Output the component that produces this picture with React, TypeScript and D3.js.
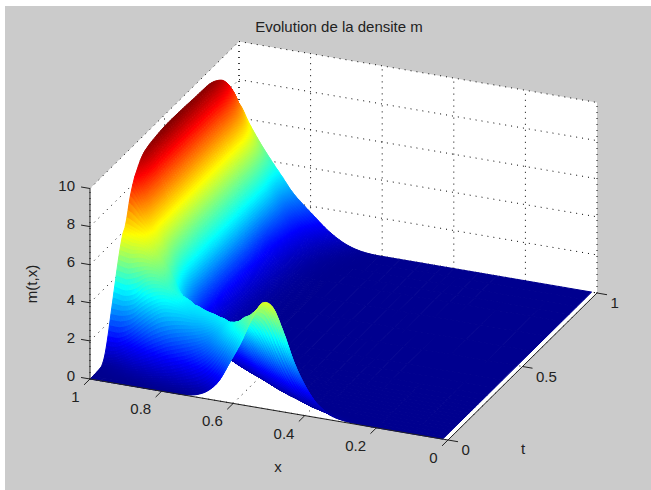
import React from 'react';
import * as d3 from 'd3';

const figWidth = 651;
const figHeight = 490;

const titleText = 'Evolution de la densite m';
const xTicks = [0, 0.2, 0.4, 0.6, 0.8, 1];
const tTicks = [0, 0.5, 1];
const zTicks = [0, 2, 4, 6, 8, 10];

// surface grid
const xGrid = [1, 0.97, 0.94, 0.91, 0.88, 0.85, 0.82, 0.79, 0.76, 0.73, 0.7, 0.67, 0.64, 0.61, 0.58, 0.55, 0.52, 0.49, 0.46, 0.43, 0.4, 0.37, 0.33, 0.28, 0.2, 0.1, 0.015];
const tGrid = [0, 0.02, 0.04, 0.06, 0.08, 0.1, 0.12, 0.14, 0.16, 0.18, 0.2, 0.22, 0.24, 0.27, 0.3, 0.35, 0.4, 0.5, 0.6, 0.7, 0.8, 0.85, 0.9, 0.95, 1];

// one row per t, one column per x, missing columns at the end are 0
const density = [
  [0, 0, 0, 0, 0, 0, 0, 0, 0, 0.03, 0.15, 0.45, 1.05, 2.1, 3.2, 4.5, 5.5, 5.4, 4.2, 2.7, 1.6, 0.8, 0.25, 0.05],
  [0, 0, 0, 0, 0.03, 0.06, 0.12, 0.18, 0.25, 0.35, 0.55, 1.0, 1.8, 2.9, 4.0, 4.8, 5.0, 4.1, 2.8, 1.6, 0.8, 0.3, 0.08, 0.01],
  [0.01, 0.03, 0.06, 0.12, 0.2, 0.3, 0.4, 0.5, 0.7, 0.95, 1.3, 1.9, 2.8, 3.7, 4.3, 4.2, 3.4, 2.2, 1.2, 0.55, 0.2, 0.06, 0.01],
  [0.03, 0.08, 0.15, 0.3, 0.45, 0.65, 0.9, 1.1, 1.3, 1.6, 2.0, 2.6, 3.3, 3.8, 3.6, 2.9, 1.9, 1.0, 0.45, 0.15, 0.04, 0.01],
  [0.1, 0.2, 0.4, 0.7, 1.0, 1.3, 1.6, 1.8, 2.0, 2.2, 2.5, 3.0, 3.5, 3.4, 2.7, 1.7, 0.85, 0.35, 0.12, 0.03],
  [0.5, 0.6, 0.9, 1.3, 1.75, 2.1, 2.35, 2.5, 2.6, 2.75, 3.0, 3.35, 3.2, 2.5, 1.5, 0.75, 0.3, 0.1, 0.03],
  [1.3, 1.3, 1.6, 2.1, 2.6, 3.0, 3.1, 3.1, 3.05, 3.1, 3.3, 3.2, 2.5, 1.5, 0.75, 0.3, 0.1, 0.03],
  [2.3, 2.3, 2.5, 3.0, 3.4, 3.6, 3.5, 3.3, 3.25, 3.3, 3.1, 2.4, 1.5, 0.75, 0.3, 0.1, 0.03],
  [3.3, 3.2, 3.4, 3.9, 4.1, 4.0, 3.7, 3.4, 3.3, 2.9, 2.1, 1.3, 0.65, 0.28, 0.1, 0.03],
  [4.3, 4.2, 4.4, 4.6, 4.5, 4.0, 3.6, 3.3, 2.7, 1.9, 1.15, 0.6, 0.27, 0.1, 0.03],
  [5.2, 5.1, 5.2, 5.0, 4.6, 3.9, 3.3, 2.6, 1.8, 1.1, 0.6, 0.28, 0.12, 0.04],
  [5.9, 5.7, 5.6, 5.2, 4.6, 3.7, 2.8, 1.9, 1.15, 0.65, 0.32, 0.15, 0.05, 0.01],
  [6.3, 6.1, 5.8, 5.2, 4.4, 3.3, 2.2, 1.3, 0.75, 0.38, 0.18, 0.07, 0.02],
  [7.5, 6.8, 6.0, 5.2, 4.2, 2.9, 1.7, 0.95, 0.48, 0.22, 0.09, 0.03],
  [8.3, 7.2, 6.0, 5.0, 3.9, 2.5, 1.35, 0.7, 0.32, 0.14, 0.05, 0.01],
  [9.0, 7.4, 6.0, 4.8, 3.6, 2.1, 1.05, 0.5, 0.22, 0.08, 0.02],
  [9.25, 7.5, 6.0, 4.7, 3.5, 1.9, 0.9, 0.42, 0.17, 0.06, 0.02],
  [9.4, 7.6, 6.0, 4.6, 3.4, 1.8, 0.85, 0.38, 0.15, 0.05, 0.01],
  [9.4, 7.6, 6.0, 4.6, 3.4, 1.8, 0.85, 0.38, 0.15, 0.05, 0.01],
  [9.35, 7.6, 6.0, 4.6, 3.35, 1.8, 0.9, 0.42, 0.17, 0.06, 0.02],
  [9.3, 7.6, 6.0, 4.6, 3.3, 1.7, 0.95, 0.48, 0.2, 0.08, 0.02],
  [9.1, 7.5, 5.95, 4.6, 3.3, 1.85, 1.05, 0.55, 0.25, 0.1, 0.03],
  [8.7, 7.2, 5.8, 4.5, 3.25, 2.0, 1.2, 0.7, 0.35, 0.14, 0.05, 0.01],
  [7.9, 6.6, 5.4, 4.3, 3.1, 2.1, 1.45, 0.95, 0.55, 0.28, 0.12, 0.04, 0.01],
  [6.75, 5.75, 4.85, 4.05, 3.3, 2.55, 2.0, 1.5, 1.0, 0.6, 0.3, 0.12, 0.03],
];

const jetStops = [0, 0.125, 0.375, 0.625, 0.875, 1];
const jetColors = ['#00008f', '#0000ff', '#00ffff', '#ffff00', '#ff0000', '#800000'];
const zMax = 9.4;

// fixed camera: each axis is a straight run on screen
const origin = { px: 448, py: 440 };
const xPx = d3.scaleLinear().domain([0, 1]).range([0, -358]);
const xPy = d3.scaleLinear().domain([0, 1]).range([0, -61]);
const tPx = d3.scaleLinear().domain([0, 1]).range([0, 149]);
const tPy = d3.scaleLinear().domain([0, 1]).range([0, -147]);
const zPy = d3.scaleLinear().domain([0, 10]).range([0, -190.5]);

const project = (x: number, t: number, z: number): [number, number] => [
  origin.px + xPx(x) + tPx(t),
  origin.py + xPy(x) + tPy(t) + zPy(z),
];

const jet = d3.scaleLinear<string>()
  .domain(jetStops.map((s) => s * zMax))
  .range(jetColors)
  .interpolate(d3.interpolateRgb)
  .clamp(true);

const clampIndex = (i: number, n: number) => Math.min(n - 1, Math.max(0, i));
const value = (it: number, ix: number) => density[clampIndex(it, tGrid.length)][clampIndex(ix, xGrid.length)] ?? 0;

const catmull = (p0: number, p1: number, p2: number, p3: number, f: number) =>
  0.5 * (2 * p1 + (p2 - p0) * f + (2 * p0 - 5 * p1 + 4 * p2 - p3) * f * f + (3 * p1 - p0 - 3 * p2 + p3) * f * f * f);

// smooth height inside a cell (shading interp look), never below the floor
const smooth = (it: number, ix: number, ft: number, fx: number) => {
  const rows = [-1, 0, 1, 2].map((dt) =>
    catmull(value(it + dt, ix - 1), value(it + dt, ix), value(it + dt, ix + 1), value(it + dt, ix + 2), fx));
  return Math.max(0, catmull(rows[0], rows[1], rows[2], rows[3], ft));
};

const line = d3.line();

// far cells first
const buildSurface = () => {
  const cells: { d: string; fill: string }[] = [];
  for (let it = tGrid.length - 2; it >= 0; it--) {
    for (let ix = 0; ix < xGrid.length - 1; ix++) {
      const corners = [value(it, ix), value(it, ix + 1), value(it + 1, ix), value(it + 1, ix + 1)];
      const peak = d3.max(corners) as number;
      const flat = peak < 0.01;
      const steep = Math.abs(corners[0] - corners[1]) > 0.4 || Math.abs(corners[2] - corners[3]) > 0.4;
      const nt = flat ? 1 : tGrid[it + 1] - tGrid[it] > 0.04 ? 8 : 4;
      const nx = flat ? 1 : steep ? 14 : 6;
      const tAt = d3.scaleLinear().domain([0, nt]).range([tGrid[it], tGrid[it + 1]]);
      const xAt = d3.scaleLinear().domain([0, nx]).range([xGrid[ix], xGrid[ix + 1]]);
      for (let i = nt - 1; i >= 0; i--) {
        for (let j = 0; j < nx; j++) {
          const z00 = smooth(it, ix, i / nt, j / nx);
          const z01 = smooth(it, ix, i / nt, (j + 1) / nx);
          const z10 = smooth(it, ix, (i + 1) / nt, j / nx);
          const z11 = smooth(it, ix, (i + 1) / nt, (j + 1) / nx);
          const d = line([
            project(xAt(j), tAt(i), z00),
            project(xAt(j + 1), tAt(i), z01),
            project(xAt(j + 1), tAt(i + 1), z11),
            project(xAt(j), tAt(i + 1), z10),
          ]) + 'Z';
          cells.push({ d, fill: jet((z00 + z01 + z10 + z11) / 4) });
        }
      }
    }
  }
  return cells;
};

const seg = (a: [number, number], b: [number, number]) => line([a, b]) as string;

const dotted = { stroke: '#000', strokeWidth: 1, strokeDasharray: '1 5', fill: 'none' };
const solid = { stroke: '#222', strokeWidth: 1, fill: 'none' };
const font = { fontFamily: '"Liberation Sans", Arial, sans-serif', fontSize: 15, fill: '#222' };

const App = () => {
  const surface = buildSurface();
  const back = [project(1, 0, 0), project(1, 0, 10), project(1, 1, 10), project(0, 1, 10), project(0, 1, 0), project(0, 0, 0)];

  return (
    <svg width={figWidth} height={figHeight} style={{ position: 'absolute', left: 0, top: 0 }}>
      <rect width={figWidth} height={figHeight} fill="#fff" />
      <rect x={5} y={6} width={figWidth - 5} height={figHeight - 6} fill="#cbcbcb" />
      <path d={line(back) + 'Z'} fill="#fff" />

      <g {...dotted}>
        {zTicks.map((z) => (
          <g key={z}>
            <path d={seg(project(1, 0, z), project(1, 1, z))} />
            <path d={seg(project(1, 1, z), project(0, 1, z))} />
          </g>
        ))}
        {xTicks.map((x) => (
          <g key={x}>
            <path d={seg(project(x, 0, 0), project(x, 1, 0))} />
            <path d={seg(project(x, 1, 0), project(x, 1, 10))} />
          </g>
        ))}
        {tTicks.map((t) => (
          <g key={t}>
            <path d={seg(project(1, t, 0), project(0, t, 0))} />
            <path d={seg(project(1, t, 0), project(1, t, 10))} />
          </g>
        ))}
      </g>

      <g>
        {surface.map((c, i) => (
          <path key={i} d={c.d} fill={c.fill} stroke={c.fill} strokeWidth={1} />
        ))}
      </g>

      <g {...solid}>
        <path d={seg(project(1, 0, 0), project(1, 0, 10))} />
        <path d={seg(project(1, 0, 0), project(0, 0, 0))} />
        <path d={seg(project(0, 0, 0), project(0, 1, 0))} />
        {xTicks.map((x) => (
          <path key={x} d={seg(project(x, 0, 0), project(x, -0.04, 0))} />
        ))}
        {tTicks.map((t) => (
          <path key={t} d={seg(project(0, t, 0), project(-0.028, t, 0))} />
        ))}
        {zTicks.map((z) => (
          <path key={z} d={seg(project(1, 0, z), project(1.025, 0, z))} />
        ))}
      </g>

      <g {...font}>
        {xTicks.map((x) => {
          const [px, py] = project(x, -0.13, 0);
          return <text key={x} x={px + 9} y={py} textAnchor="end" dominantBaseline="middle">{x}</text>;
        })}
        {tTicks.map((t) => {
          const [px, py] = project(-0.05, t, 0);
          return <text key={t} x={px - 4.5} y={py + 8} dominantBaseline="middle">{t}</text>;
        })}
        {zTicks.map((z) => {
          const [px, py] = project(1.025, 0, z);
          return <text key={z} x={px - 6} y={py} textAnchor="end" dominantBaseline="middle">{z}</text>;
        })}
        <text x={339} y={28} textAnchor="middle" dominantBaseline="middle">{titleText}</text>
        <text x={278} y={468} textAnchor="middle" dominantBaseline="middle">x</text>
        <text x={523} y={450} textAnchor="middle" dominantBaseline="middle">t</text>
        <text transform="translate(33,284) rotate(-90)" textAnchor="middle" dominantBaseline="middle">m(t,x)</text>
      </g>
    </svg>
  );
};

export default App;
